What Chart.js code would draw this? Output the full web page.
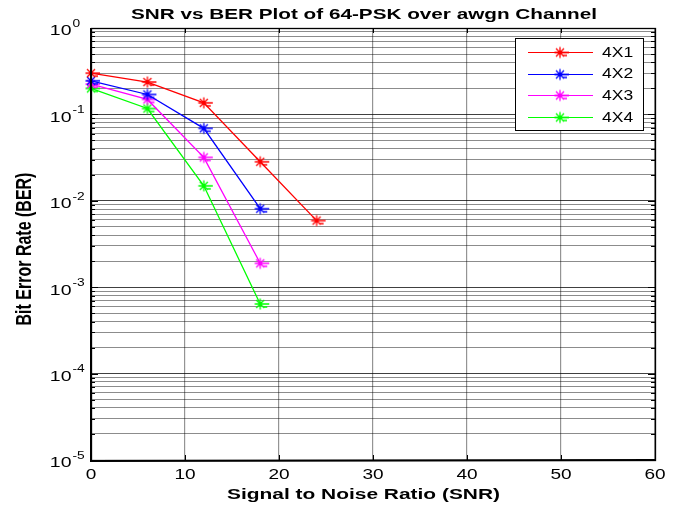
<!DOCTYPE html>
<html>
<head>
<meta charset="utf-8">
<script src="https://cdn.jsdelivr.net/npm/chart.js@4.4.1/dist/chart.umd.min.js"></script>
<style>
  html, body { margin: 0; padding: 0; background: #ffffff; }
  #wrap { width: 682px; height: 508px; }
</style>
</head>
<body>
<div id="wrap"><canvas id="c" width="682" height="508"></canvas></div>
<script>
// SNR (dB) sample points and measured bit error rates per antenna configuration
const snr = [0, 6, 12, 18, 24];
const ber4x1 = [0.30, 0.237, 0.136, 0.0283, 0.0059];
const ber4x2 = [0.245, 0.170, 0.069, 0.0081];
const ber4x3 = [0.224, 0.149, 0.0318, 0.00189];
const ber4x4 = [0.200, 0.117, 0.0149, 0.00064];

const seriesNames = ['4X1', '4X2', '4X3', '4X4'];
const seriesColors = ['#ff0000', '#0000ff', '#ff00ff', '#00ff00'];
const seriesValues = [ber4x1, ber4x2, ber4x3, ber4x4];

const xTicks = [0, 10, 20, 30, 40, 50, 60];
const yDecades = [-5, -4, -3, -2, -1, 0];

const chartTitle = 'SNR vs BER Plot of 64-PSK over awgn Channel';
const xTitle = 'Signal to Noise Ratio (SNR)';
const yTitle = 'Bit Error Rate (BER)';

const FONT = '"Liberation Sans", Arial, Helvetica, sans-serif';

// asterisk marker with a short trailing dash, as a reusable point image
function makeMarker(color) {
  const c = document.createElement('canvas');
  c.width = 28; c.height = 18;
  const g = c.getContext('2d');
  g.strokeStyle = color;
  g.lineWidth = 1.3;
  const cx = 14, cy = 9, r = 5.5, d = 4;
  g.beginPath();
  g.moveTo(cx - r, cy); g.lineTo(cx + 9, cy);
  g.moveTo(cx, cy - r); g.lineTo(cx, cy + r);
  g.moveTo(cx - d, cy - d); g.lineTo(cx + d, cy + d);
  g.moveTo(cx - d, cy + d); g.lineTo(cx + d, cy - d);
  g.moveTo(cx + 3, cy + 3); g.lineTo(cx + 7, cy + 3);
  g.stroke();
  return c;
}
const markers = seriesColors.map(makeMarker);

// text drawn with a horizontal stretch factor
function wideText(ctx, txt, x, y, font, sx, align, baseline) {
  ctx.save();
  ctx.font = font;
  ctx.textAlign = 'left';
  ctx.textBaseline = baseline || 'alphabetic';
  const w = ctx.measureText(txt).width * sx;
  const left = align === 'center' ? x - w / 2 : (align === 'right' ? x - w : x);
  ctx.translate(left, y);
  ctx.scale(sx, 1);
  ctx.fillStyle = '#000';
  ctx.fillText(txt, 0, 0);
  ctx.restore();
  return w;
}
// stretch text so it spans a given width
function fitText(ctx, txt, cx, y, font, width) {
  ctx.save(); ctx.font = font;
  const sx = width / ctx.measureText(txt).width;
  ctx.restore();
  wideText(ctx, txt, cx, y, font, sx, 'center');
}

function isDecade(v) {
  const l = Math.log10(v);
  return Math.abs(l - Math.round(l)) < 1e-6;
}

const datasets = seriesValues.map((vals, i) => ({
  label: seriesNames[i],
  data: vals.map((v, j) => ({ x: snr[j], y: v })),
  borderColor: seriesColors[i],
  backgroundColor: seriesColors[i],
  borderWidth: 1.3,
  pointStyle: markers[i],
  pointRadius: 5,
  tension: 0,
  fill: false,
  clip: false
}));

const decorPlugin = {
  id: 'decor',
  beforeDraw(chart) {
    const ctx = chart.ctx;
    ctx.save();
    ctx.fillStyle = '#ffffff';
    ctx.fillRect(0, 0, chart.width, chart.height);
    ctx.restore();
  },
  beforeDatasetsDraw(chart) {
    const { ctx, chartArea: a, scales } = chart;
    ctx.save();
    ctx.strokeStyle = '#000';
    ctx.lineWidth = 1;
    // inward tick marks on all four sides
    ctx.beginPath();
    scales.y.ticks.forEach(t => {
      const y = Math.round(scales.y.getPixelForValue(t.value)) + 0.5;
      const len = isDecade(t.value) ? 7 : 4;
      ctx.moveTo(a.left, y); ctx.lineTo(a.left + len, y);
      ctx.moveTo(a.right, y); ctx.lineTo(a.right - len, y);
    });
    xTicks.forEach(v => {
      const x = Math.round(scales.x.getPixelForValue(v)) + 0.5;
      ctx.moveTo(x, a.bottom); ctx.lineTo(x, a.bottom - 5);
      ctx.moveTo(x, a.top); ctx.lineTo(x, a.top + 5);
    });
    ctx.stroke();
    ctx.restore();
  },
  afterDatasetsDraw(chart) {
    const { ctx, chartArea: a } = chart;
    ctx.save();
    ctx.strokeStyle = '#000';
    ctx.lineWidth = 1.3;
    ctx.strokeRect(Math.round(a.left) + 0.5, Math.round(a.top) + 0.5,
                   Math.round(a.right - a.left), Math.round(a.bottom - a.top));
    ctx.lineWidth = 2;
    ctx.beginPath();
    ctx.moveTo(a.left, a.top); ctx.lineTo(a.left, a.bottom + 1);
    ctx.lineTo(a.right + 1, a.bottom);
    ctx.stroke();
    ctx.restore();
  },
  afterDraw(chart) {
    const { ctx, scales } = chart;

    // title and axis titles
    fitText(ctx, chartTitle, 364, 19, 'bold 15px ' + FONT, 466);
    fitText(ctx, xTitle, 363.5, 499, 'bold 14px ' + FONT, 273);
    ctx.save();
    ctx.translate(25, 249);
    ctx.rotate(-Math.PI / 2);
    ctx.scale(1, 1.4);
    ctx.font = 'bold 16px ' + FONT;
    ctx.textAlign = 'center';
    ctx.textBaseline = 'middle';
    ctx.fillStyle = '#000';
    ctx.fillText(yTitle, 0, 0);
    ctx.restore();

    // x tick labels
    xTicks.forEach(v => {
      const x = scales.x.getPixelForValue(v);
      wideText(ctx, String(v), x, 479, '14px ' + FONT, 1.36, 'center');
    });

    // y tick labels as powers of ten
    yDecades.forEach(e => {
      const y = scales.y.getPixelForValue(Math.pow(10, e));
      wideText(ctx, '10', 71.5, y + 7.4, '15px ' + FONT, 1.3, 'right');
      wideText(ctx, String(e), 72.5, y - 1.3, '11px ' + FONT, 1.25, 'left');
    });

    // legend box
    const bx = 515, by = 38, bw = 128, bh = 92;
    ctx.save();
    ctx.fillStyle = '#ffffff';
    ctx.fillRect(bx, by, bw, bh);
    ctx.strokeStyle = '#000';
    ctx.lineWidth = 1;
    ctx.strokeRect(bx + 0.5, by + 0.5, bw, bh);
    chart.data.datasets.forEach((ds, i) => {
      const ry = 51.7 + i * 21.8;
      ctx.strokeStyle = ds.borderColor;
      ctx.lineWidth = 1;
      ctx.beginPath();
      ctx.moveTo(528, Math.round(ry) + 0.5);
      ctx.lineTo(593, Math.round(ry) + 0.5);
      ctx.stroke();
      const m = ds.pointStyle;
      ctx.drawImage(m, 560 - m.width / 2, Math.round(ry) + 0.5 - m.height / 2);
      wideText(ctx, ds.label, 602, ry + 1, '14px ' + FONT, 1.25, 'left', 'middle');
    });
    ctx.restore();
  }
};

new Chart(document.getElementById('c'), {
  type: 'line',
  data: { datasets },
  options: {
    responsive: false,
    devicePixelRatio: 1,
    animation: false,
    layout: { padding: { left: 91, top: 28, right: 27, bottom: 48 } },
    plugins: {
      legend: { display: false },
      title: { display: false },
      tooltip: { enabled: false }
    },
    scales: {
      x: {
        type: 'linear',
        min: 0,
        max: 60,
        afterFit(s) { s.height = 0; },
        afterBuildTicks(s) { s.ticks = xTicks.map(v => ({ value: v })); },
        ticks: { display: false },
        border: { display: false },
        grid: { color: 'rgba(0,0,0,0.42)', lineWidth: 1.2, drawTicks: false }
      },
      y: {
        type: 'logarithmic',
        min: 1e-5,
        max: 1,
        afterFit(s) { s.width = 0; },
        afterBuildTicks(s) {
          const t = [];
          yDecades.forEach(e => {
            const base = Math.pow(10, e);
            const steps = e === 0 ? [1] : [1, 2, 3, 4, 5, 6, 7, 8, 9];
            steps.forEach(k => t.push({ value: k * base }));
          });
          s.ticks = t;
        },
        ticks: { display: false },
        border: { display: false },
        grid: {
          drawTicks: false,
          color: c => (c.tick && isDecade(c.tick.value)) ? 'rgba(0,0,0,0.75)' : 'rgba(0,0,0,0.45)',
          lineWidth: 1
        }
      }
    }
  },
  plugins: [decorPlugin]
});
</script>
</body>
</html>
